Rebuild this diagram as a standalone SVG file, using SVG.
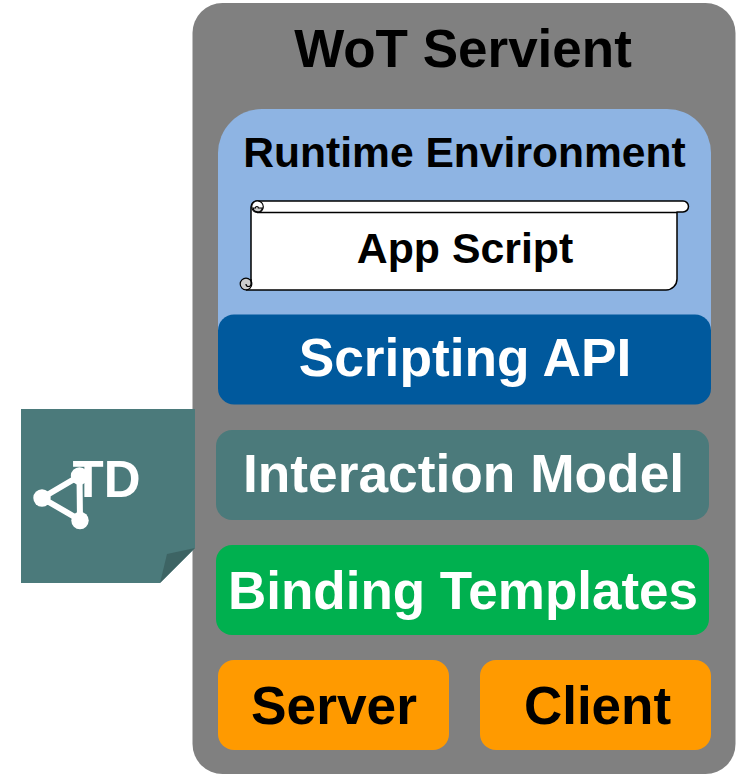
<svg xmlns="http://www.w3.org/2000/svg" width="748" height="774" viewBox="0 0 748 774">
<style>
text{font-family:"Liberation Sans",Arial,sans-serif;font-weight:700;text-anchor:middle}
.w{fill:#fff}.k{fill:#000}
.s{fill:#fff;stroke:#000;stroke-width:1.5;stroke-linejoin:round}
.c{fill:#ccc;stroke:#000;stroke-width:1.2}
</style>
<rect width="748" height="774" fill="#fff"/>
<g id="servient"><rect x="192.500" y="3" width="543" height="771" rx="30" fill="#808080"/>
<text class="k" x="463" y="67" font-size="53">WoT Servient</text></g>
<g id="runtime"><path d="M218 330V153a44 44 0 0 1 44-44H667a44 44 0 0 1 44 44V330z" fill="#8eb4e3"/>
<text class="k" x="464.500" y="167" font-size="42.600">Runtime Environment</text></g>
<g id="app-script">
<path class="s" d="M251 284V207a6 6 0 0 1 6-6H683a5.500 5.500 0 0 1 0 11H677V279a11 11 0 0 1-11 11H246"/>
<path d="M257 212.500H677" fill="none" stroke="#000" stroke-width="1.500"/>
<circle cx="257.500" cy="206.700" r="5.800" fill="#fff" stroke="#000" stroke-width="1.200"/>
<path class="c" d="M253 208a4.800 4.800 0 0 0 9.400 0h-4a1.500 1.500 0 0 0-3 0z"/>
<circle class="c" cx="246" cy="284" r="5.800"/>
<path d="M251 279v5a2.500 2.500 0 0 1-5 0" fill="none" stroke="#000" stroke-width="1.200"/>
<text class="k" x="465" y="263" font-size="42.800">App Script</text></g>
<g id="scripting-api"><rect x="218" y="314.500" width="493" height="90" rx="16" fill="#00599d"/>
<text class="w" x="465" y="376" font-size="53.300">Scripting API</text></g>
<g id="interaction-model"><rect x="216" y="430" width="493" height="90" rx="16" fill="#4b7a7b"/>
<text class="w" x="463.500" y="492" font-size="53.300">Interaction Model</text></g>
<g id="binding-templates"><rect x="216" y="545" width="493" height="90" rx="16" fill="#00b04f"/>
<text class="w" x="463" y="609" font-size="53">Binding Templates</text></g>
<g id="server"><rect x="218" y="660" width="231" height="90" rx="16" fill="#ff9a00"/>
<text class="k" x="334" y="724" font-size="53.300">Server</text></g>
<g id="client"><rect x="480" y="660" width="231" height="90" rx="16" fill="#ff9a00"/>
<text class="k" x="597.500" y="724" font-size="53">Client</text></g>
<g id="td">
<path d="M21 409H195V548L160 583H21z" fill="#4b7a7b"/>
<path d="M160 583L167 554L195 548z" fill="#3d6464"/>
<text class="w" x="106.500" y="497" font-size="51">TD</text>
<g fill="#fff" stroke="none"><path d="M42 498L79.500 476L80 520z" fill="none" stroke="#fff" stroke-width="6"/>
<circle cx="42" cy="498" r="8.700"/><circle cx="79.500" cy="476" r="8.700"/><circle cx="80" cy="520.500" r="8.700"/></g>
</g>
</svg>
